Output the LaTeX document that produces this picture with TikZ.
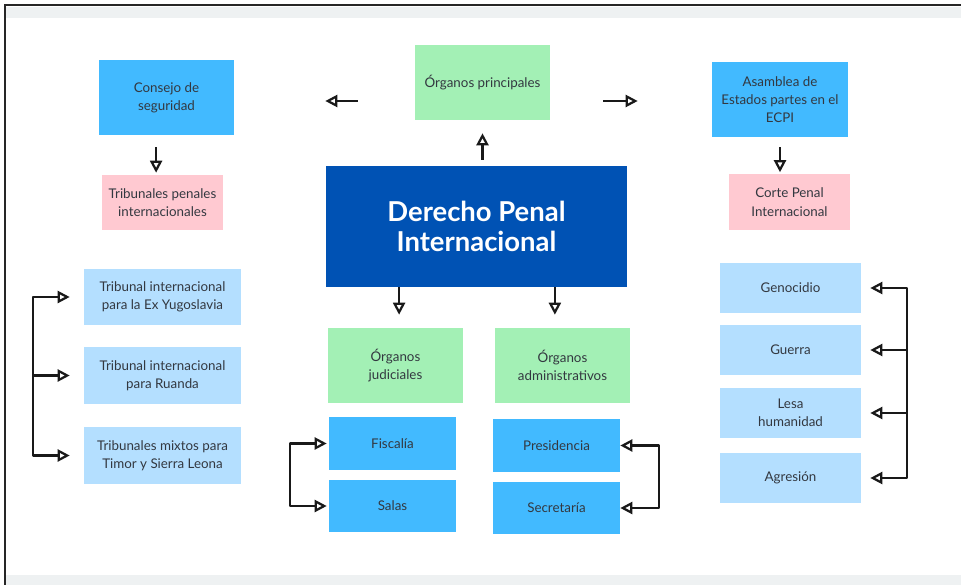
\documentclass[tikz,border=0pt]{standalone}
\usepackage{fontspec}
\setmainfont{Lato}
\usetikzlibrary{arrows.meta,calc,positioning}
\definecolor{cielo}{HTML}{42BAFF}
\definecolor{celeste}{HTML}{B4DFFF}
\definecolor{menta}{HTML}{A3F0B5}
\definecolor{rosa}{HTML}{FFC9D1}
\definecolor{marino}{HTML}{0052B4}
\definecolor{tinta}{HTML}{333840}
\definecolor{banda}{HTML}{EEF1F2}

\begin{document}
\begin{tikzpicture}[x=0.025cm, y=-0.025cm]
    \tikzset{
        caja/.style = {draw = none, align = center, text = tinta, inner sep = 0pt,
                       font = \fontsize{9.5}{13}\selectfont},
        grande/.style = {caja, minimum width = 3.375cm, minimum height = 1.875cm},
        media/.style = {caja, minimum width = 3.025cm, minimum height = 1.375cm},
        tribunal/.style = {caja, fill = celeste, minimum width = 3.925cm, minimum height = 1.4cm},
        sala/.style = {caja, fill = cielo, minimum width = 3.175cm, minimum height = 1.3cm},
        crimen/.style = {caja, fill = celeste, minimum width = 3.525cm, minimum height = 1.25cm},
        flecha/.style = {line width = 1.7pt, line join = round, draw = black!90,
                         -{Triangle[open, length = 0.3cm, width = 0.3cm, line width = 1.6pt]}}
    }
    \useasboundingbox (0,0) rectangle (961,585);

    % marco de la captura
    \fill[banda] (6,7) rectangle (961,18);
    \fill[banda] (6,575) rectangle (961,585);
    \draw[line width = 2pt, black!85] (5,585) -- (5,5) -- (961,5);

    \node[grande, fill = cielo] (consejo) at (166.5,97.5) {Consejo de\\ seguridad};
    \node[grande, fill = menta] (principales) at (482.5,82.5) {Órganos principales};
    \node[grande, fill = cielo, minimum width = 3.4cm] (asamblea) at (780,99.5) {Asamblea de\\ Estados partes en el\\ ECPI};

    \node[media, fill = rosa] (tribunales) at (162.5,202.5) {Tribunales penales\\ internacionales};
    \node[media, fill = rosa] (corte) at (789.5,202) {Corte Penal\\ Internacional};

    \node[caja, fill = marino, text = white, minimum width = 7.525cm, minimum height = 3.025cm,
          font = \fontsize{19.5}{21}\selectfont\bfseries] (dpi) at (476.5,226.5) {Derecho Penal\\ Internacional};

    \node[tribunal] (yugoslavia) at (162.5,297) {Tribunal internacional\\ para la Ex Yugoslavia};
    \node[tribunal] (ruanda) at (162.5,375.5) {Tribunal internacional\\ para Ruanda};
    \node[tribunal] (mixtos) at (162.5,455.5) {Tribunales mixtos para\\ Timor y Sierra Leona};

    \node[grande, fill = menta] (judiciales) at (395.5,365.5) {Órganos\\ judiciales};
    \node[grande, fill = menta] (administrativos) at (562.5,365.5) {Órganos\\ administrativos};

    \node[sala] (fiscalia) at (392.5,443.5) {Fiscalía};
    \node[sala] (salas) at (392.5,506) {Salas};
    \node[sala] (presidencia) at (556.5,445.5) {Presidencia};
    \node[sala] (secretaria) at (556.5,508) {Secretaría};

    \node[crimen] (genocidio) at (790.5,288) {Genocidio};
    \node[crimen] (guerra) at (790.5,350) {Guerra};
    \node[crimen] (lesa) at (790.5,413) {Lesa\\ humanidad};
    \node[crimen] (agresion) at (790.5,478) {Agresión};

    \coordinate (filaA) at (0,101);
    \coordinate (troncoL) at (33,0);
    \coordinate (troncoF) at (290,0);
    \coordinate (troncoP) at (659,0);
    \coordinate (troncoR) at (907,0);

    \draw[flecha, shorten <= 1.425cm, shorten >= 2.275cm] (principales.west |- filaA) -- (consejo.east |- filaA);
    \draw[flecha, shorten <= 1.325cm, shorten >= 1.85cm] (principales.east |- filaA) -- (asamblea.west |- filaA);
    \draw[flecha, shorten <= 0.15cm, shorten >= 0.325cm] (dpi.north -| principales) -- (principales.south);

    \draw[flecha, shorten <= 0.3cm, shorten >= 0.05cm] ([xshift = -0.26cm]consejo.south) -- ([xshift = -0.26cm]consejo.south |- tribunales.north);
    \draw[flecha, shorten <= 0.25cm, shorten >= 0.05cm] (asamblea.south) -- (asamblea.south |- corte.north);
    \draw[flecha, shorten >= 0.325cm] ([xshift = 0.09cm]dpi.south -| judiciales) -- ([xshift = 0.09cm]judiciales.north);
    \draw[flecha, shorten >= 0.325cm] ([xshift = -0.19cm]dpi.south -| administrativos) -- ([xshift = -0.19cm]administrativos.north);

    % llaves laterales
    \draw[flecha, shorten >= 0.35cm] (troncoL |- mixtos) -- (troncoL |- yugoslavia) -- (yugoslavia.west);
    \draw[flecha, shorten >= 0.35cm] (troncoL |- ruanda) -- (ruanda.west);
    \draw[flecha, shorten >= 0.35cm] (troncoL |- yugoslavia) -- (troncoL |- mixtos) -- (mixtos.west);

    \draw[flecha, shorten >= 0.05cm] (troncoF |- salas) -- (troncoF |- fiscalia) -- (fiscalia.west);
    \draw[flecha, shorten >= 0.05cm] (troncoF |- fiscalia) -- (troncoF |- salas) -- (salas.west);

    \draw[flecha] (troncoP |- secretaria) -- (troncoP |- presidencia) -- (presidencia.east);
    \draw[flecha] (troncoP |- presidencia) -- (troncoP |- secretaria) -- (secretaria.east);

    \draw[flecha, shorten >= 0.225cm] (troncoR |- agresion) -- (troncoR |- genocidio) -- (genocidio.east);
    \draw[flecha, shorten >= 0.225cm] (troncoR |- guerra) -- (guerra.east);
    \draw[flecha, shorten >= 0.225cm] (troncoR |- lesa) -- (lesa.east);
    \draw[flecha, shorten >= 0.225cm] (troncoR |- genocidio) -- (troncoR |- agresion) -- (agresion.east);
\end{tikzpicture}
\end{document}
